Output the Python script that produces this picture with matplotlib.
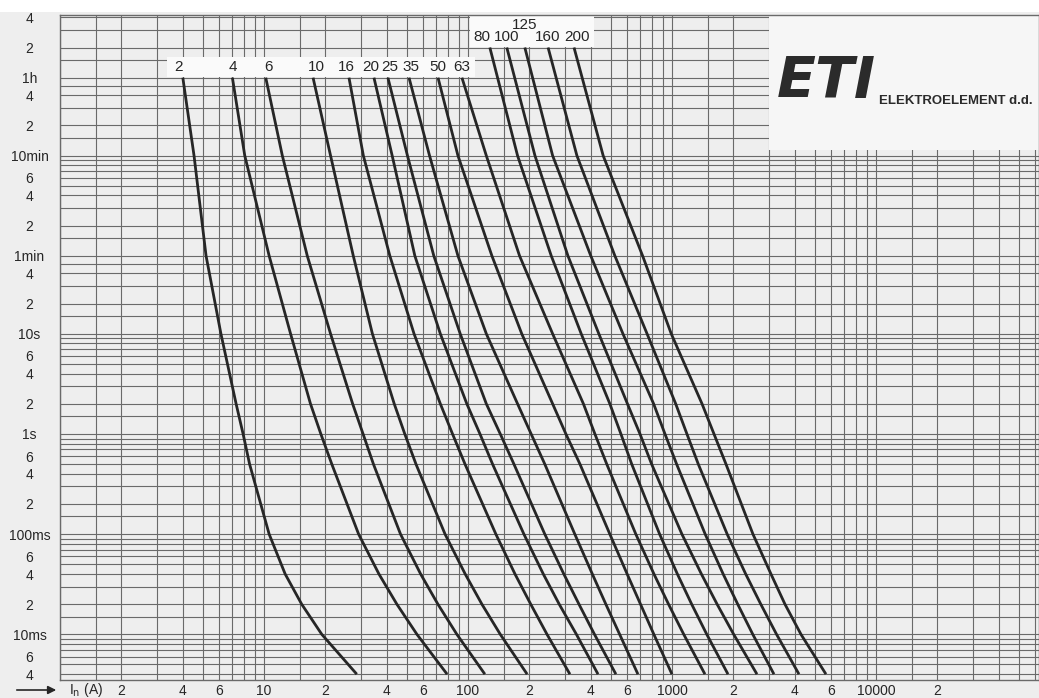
import matplotlib.pyplot as plt
from matplotlib.patches import Rectangle
from matplotlib.ticker import NullLocator

W, H = 1039, 698

ratings = [2, 4, 6, 10, 16, 20, 25, 35, 50, 63, 80, 100, 125, 160, 200]

# melting time (s) at which each current was read
t_low = [3600, 600, 60, 10, 2, 1, 0.5, 0.1, 0.04, 0.02, 0.01, 0.004]   # 2 A .. 63 A
t_high = [7200, 600, 60, 10, 2, 1, 0.5, 0.1, 0.04, 0.02, 0.01, 0.004]  # 80 A .. 200 A

# prospective current (A)
i_2 = [4.0, 4.54, 5.2, 6.15, 7.3, 7.9, 8.5, 10.6, 12.7, 15.3, 19.2, 28.5]
i_4 = [7.0, 8.05, 10.6, 13.5, 16.9, 19.0, 21.5, 29.1, 36.6, 44.8, 56.2, 79]
i_6 = [10.2, 12.3, 16.3, 21.2, 27.2, 30.6, 34.4, 46.7, 58.6, 71.2, 88.2, 121]
i_10 = [17.4, 21.2, 27.4, 34, 43.5, 49, 55.6, 77.2, 96.9, 117, 144, 195]
i_16 = [26.1, 30.7, 41.4, 54.4, 73.2, 84, 96.7, 137, 170, 203, 244, 316]
i_20 = [34.6, 42.5, 54.9, 73.2, 98.7, 114.5, 132, 188, 234, 280, 340, 434]
i_25 = [40.5, 50.5, 68, 91.6, 123, 144, 168, 238, 295, 350, 417, 531]
i_35 = [51.4, 64.8, 89.3, 123, 175, 204, 238, 334, 407, 474, 554, 681]
i_50 = [71.3, 89.3, 131, 183.5, 260, 302, 354, 496, 603, 701, 815, 1000]
i_63 = [93.4, 123, 179, 260, 368, 419, 479, 665, 816, 962, 1142, 1451]
i_80 = [128, 175, 256, 359, 496, 562, 635, 870, 1063, 1249, 1481, 1882]
i_100 = [155, 213, 309, 438, 605, 697, 795, 1119, 1394, 1664, 2007, 2610]
i_125 = [190, 260, 400, 575, 813, 924, 1054, 1455, 1782, 2100, 2490, 3162]
i_160 = [247, 342, 525, 755, 1043, 1184, 1346, 1865, 2298, 2725, 3256, 4194]
i_200 = [331, 460, 718, 992, 1404, 1607, 1840, 2495, 3057, 3580, 4290, 5687]

currents = [i_2, i_4, i_6, i_10, i_16, i_20, i_25, i_35, i_50, i_63,
            i_80, i_100, i_125, i_160, i_200]

x_ticks = [2, 4, 6, 10, 20, 40, 60, 100, 200, 400, 600, 1000, 2000, 4000, 6000, 10000, 20000]
x_labels = ["2", "4", "6", "10", "2", "4", "6", "100", "2", "4", "6", "1000",
            "2", "4", "6", "10000", "2"]
y_ticks = [14400, 7200, 3600, 2400, 1200, 600, 360, 240, 120, 60, 40, 20, 10,
           6, 4, 2, 1, 0.6, 0.4, 0.2, 0.1, 0.06, 0.04, 0.02, 0.01, 0.006, 0.004]
y_labels = ["4", "2", "1h", "4", "2", "10min", "6", "4", "2", "1min", "4", "2", "10s",
            "6", "4", "2", "1s", "6", "4", "2", "100ms", "6", "4", "2", "10ms", "6", "4"]

# nudges (pixels) for the rating labels above the curve tops
label_dx = {2: -4, 6: 3, 10: 3, 16: -3, 20: -3, 25: 2, 35: 2, 80: -8, 200: 3}
label_dy = {125: 23}

plt.rcParams['font.family'] = ['Liberation Sans', 'DejaVu Sans']
ink = '#262626'
gc = '#6a6a6a'
paper = '#eeeeee'

fig = plt.figure(figsize=(W / 100, H / 100), dpi=100, facecolor=paper)
ax = fig.add_axes([60 / W, 1 - 680 / H, 1 - 60 / W, (680 - 15) / H])
ax.set_facecolor(paper)
ax.set_xscale('log')
ax.set_yscale('log')

# paper grid: 1, 1.5, 2 .. 9 per decade, time in s / min / h
steps = [1, 1.5, 2, 3, 4, 5, 6, 7, 8, 9]
xgrid = [k * 10 ** e for e in range(5) for k in steps if k * 10 ** e < 63000]
ygrid = ([k * d for d in (0.001, 0.01, 0.1, 1) for k in steps if k * d >= 0.004]
         + [10, 15, 20, 30, 40, 50]
         + [60 * k for k in steps] + [600, 900, 1200, 1800, 2400, 3000]
         + [3600 * k for k in (1, 1.5, 2, 3, 4)])
ax.vlines(xgrid, 0.001, 1e5, color=gc, lw=0.8, zorder=1)
ax.hlines(ygrid, 0.5, 1e5, color=gc, lw=0.8, zorder=1)


def pxbox(x0, y0, x1, y1, fc):
    return Rectangle((x0 / W, 1 - y1 / H), (x1 - x0) / W, (y1 - y0) / H,
                     transform=fig.transFigure, facecolor=fc, edgecolor='none',
                     zorder=2, clip_on=False)


# white bands behind the rating labels and the logo panel
ax.add_patch(pxbox(167, 57, 475, 77, '#fafafa'))
ax.add_patch(pxbox(470, 16, 594, 46.5, '#fafafa'))
ax.add_patch(pxbox(769, 16, W + 1, 150, '#f6f6f6'))

for r, cur in zip(ratings, currents):
    t = t_high if r >= 80 else t_low
    ax.plot(cur, t, color=ink, lw=2.0, solid_capstyle='butt', zorder=3)
    ax.annotate(str(r), xy=(cur[0], t[0]),
                xytext=(label_dx.get(r, 0), label_dy.get(r, 11)),
                textcoords='offset pixels', ha='center', va='center',
                fontsize=11, color=ink, zorder=5)

ax.set_xlim(1, 63000)
ax.set_ylim(0.0035, 15200)
ax.set_xticks(x_ticks, x_labels)
ax.set_yticks(y_ticks, y_labels)
ax.xaxis.set_minor_locator(NullLocator())
ax.yaxis.set_minor_locator(NullLocator())
ax.tick_params(axis='x', length=0, pad=3, labelsize=10, labelcolor=ink)
ax.tick_params(axis='y', length=0, pad=22, labelsize=10, labelcolor=ink)
plt.setp(ax.get_yticklabels(), ha='center')
for s in ax.spines.values():
    s.set_color(gc)
    s.set_linewidth(1.0)

# current axis caption with arrow
ax.annotate('', xy=(59 / W, 1 - 690 / H), xytext=(14 / W, 1 - 690 / H),
            xycoords='figure fraction', textcoords='figure fraction',
            annotation_clip=False,
            arrowprops=dict(arrowstyle='-|>', color=ink, lw=1.2, mutation_scale=12))
fig.text(69 / W, 1 - 690 / H, r'I$_\mathrm{n}$ (A)', ha='left', va='center',
         fontsize=10, color=ink)

# logo
fig.text(826 / W, 1 - 83 / H, 'ETI', ha='center', va='center', fontsize=41,
         fontweight='heavy', fontstyle='italic', color='#2b2b2b', family='DejaVu Sans')
fig.text(879 / W, 1 - 101 / H, 'ELEKTROELEMENT d.d.', ha='left', va='center',
         fontsize=9.5, fontweight='bold', color='#2b2b2b')

fig.patches.append(Rectangle((0, 1 - 12 / H), 1, 12 / H, transform=fig.transFigure,
                             facecolor='white', edgecolor='none', zorder=0))

fig.savefig('out.png', dpi=100, facecolor=fig.get_facecolor())
